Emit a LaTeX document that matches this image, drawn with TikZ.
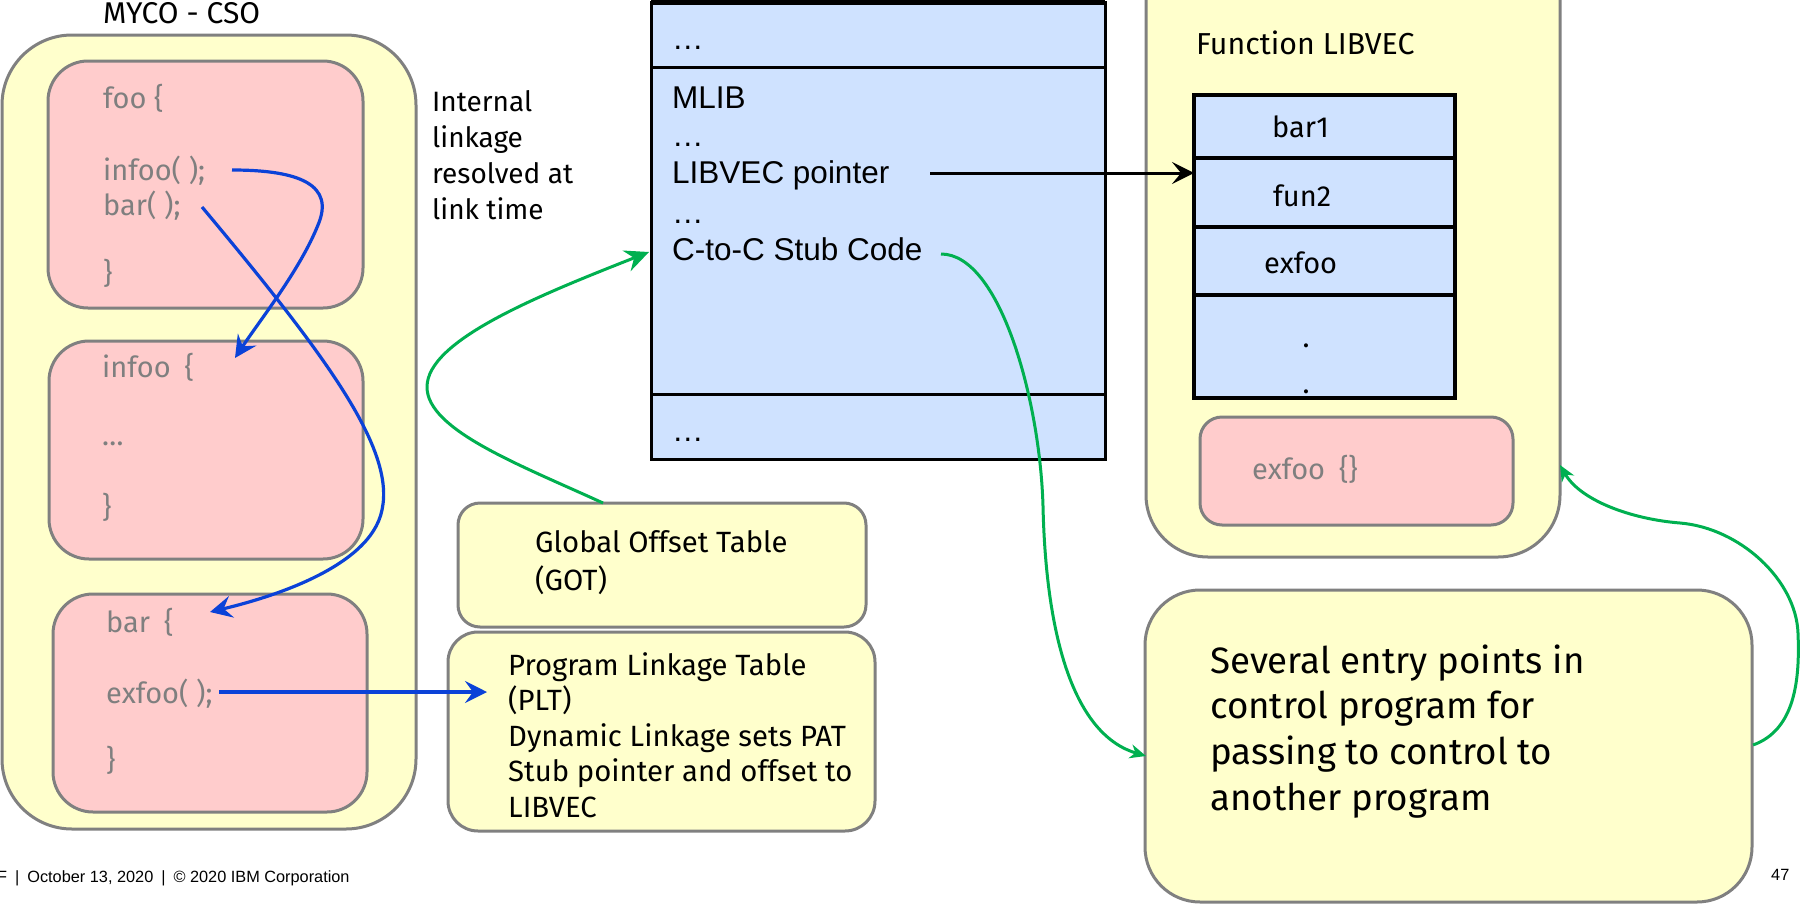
\documentclass[tikz,border=0pt]{standalone}
\usepackage{fontspec}
\setmainfont{Fira Sans}
\newfontfamily\arialfont{Liberation Sans}
\usetikzlibrary{arrows.meta}

\definecolor{paleyellow}{HTML}{FFFFCC}
\definecolor{palepink}{HTML}{FFCCCC}
\definecolor{paleblue}{HTML}{CFE2FF}
\definecolor{framegray}{HTML}{808080}
\definecolor{codegray}{HTML}{7F7F7F}
\definecolor{linkblue}{HTML}{0B42D8}
\definecolor{linkgreen}{HTML}{00B050}

\begin{document}
\begin{tikzpicture}[x=1pt,y=-1pt,
  panel/.style={draw=framegray, line width=3pt, fill=paleyellow, anchor=north west,
    inner sep=0pt, outer sep=0pt},
  codebox/.style={draw=framegray, line width=3pt, fill=palepink, anchor=north west,
    inner sep=0pt, outer sep=0pt},
  memcell/.style={draw=black, line width=3pt, fill=paleblue, anchor=north west,
    inner sep=0pt, outer sep=0pt, minimum width=454pt},
  veccell/.style={draw=black, line width=4pt, fill=paleblue, anchor=north west,
    inner sep=0pt, outer sep=0pt, minimum width=261pt},
  codetxt/.style={text=codegray, anchor=base west, inner sep=0pt,
    font=\fontsize{29}{35}\selectfont},
  plain/.style={anchor=base west, inner sep=0pt},
  memtxt/.style={anchor=base west, inner sep=0pt, font=\arialfont\fontsize{31.5}{37}\selectfont},
  foot/.style={anchor=base west, inner sep=0pt, font=\arialfont\fontsize{16.3}{20}\selectfont},
  bluelink/.style={draw=linkblue, line width=3.2pt,
    -{Stealth[length=22pt,width=22pt,inset=8pt]}},
  greenlink/.style={draw=linkgreen, line width=3pt,
    -{Stealth[length=24pt,width=22pt,inset=8pt]}},
  greenthin/.style={draw=linkgreen, line width=3pt,
    -{Stealth[length=16pt,width=14pt,inset=5pt]}},
  blacklink/.style={draw=black, line width=3pt,
    -{Stealth[length=22pt,width=22pt,inset=9pt]}}
]
\useasboundingbox (0,0) rectangle (1800,905);

% ---- module MYCO - CSO with its three functions ----
\node[plain, font=\fontsize{30}{36}\selectfont] (mycotitle) at (103,23) {MYCO - CSO};
\node[panel, rounded corners=70pt, minimum width=414pt, minimum height=794pt] (myco) at (2,35) {};

\node[codebox, rounded corners=40pt, minimum width=315pt, minimum height=247pt] (foobox) at (48,61) {};
\node[codebox, rounded corners=40pt, minimum width=314pt, minimum height=218pt] (infoobox) at (49,341) {};
\node[codebox, rounded corners=40pt, minimum width=314pt, minimum height=218pt] (barbox) at (53,594) {};

\node[codetxt] (foohead) at (103,108) {foo \{};
\node[codetxt] (infoocall) at (103,180) {infoo( );};
\node[codetxt] (barcall) at (103,215) {bar( );};
\node[codetxt] (fooend) at (103,283) {\}};

\node[codetxt] (infoohead) at (102,377) {infoo\hspace{14pt}\{};
\node[codetxt] (infoobody) at (102,445) {…};
\node[codetxt] (infooend) at (102,517) {\}};

\node[codetxt] (barhead) at (106,632) {bar\hspace{14pt}\{};
\node[codetxt] (exfoocall) at (106,703) {exfoo( );};
\node[codetxt] (barend) at (106,770) {\}};

\node[plain, font=\fontsize{28}{36}\selectfont] (internal) at (432,111)
  {\vtop{\hbox{Internal}\hbox{linkage}\hbox{resolved at}\hbox{link time}}};

% ---- linkage tables ----
\node[panel, rounded corners=22pt, minimum width=408pt, minimum height=124pt] (gotbox) at (458,503) {};
\node[panel, rounded corners=30pt, minimum width=427pt, minimum height=199pt] (pltbox) at (448,632) {};
\node[plain, font=\fontsize{29.3}{38}\selectfont] (gottxt) at (535,552)
  {\vtop{\hbox{Global Offset Table}\hbox{(GOT)}}};
\node[plain, font=\fontsize{29.3}{35.5}\selectfont] (plttxt) at (508,675)
  {\vtop{\hbox{Program Linkage Table}\hbox{(PLT)}\hbox{Dynamic Linkage sets PAT}%
   \hbox{Stub pointer and offset to}\hbox{LIBVEC}}};
\coordinate (pltentry) at ([xshift=39pt]pltbox.west);

% ---- control block in memory ----
\node[memcell, minimum height=65pt] (memtop) at (651,2) {};
\node[memcell, minimum height=327pt] (memmid) at (651,67) {};
\node[memcell, minimum height=65pt] (membot) at (651,394) {};
\draw[line width=5pt] (memtop.north west) -- (memtop.north east);

\node[memtxt] (dotsa) at (672,49) {…};
\node[memtxt] (mlib) at (672,108) {MLIB};
\node[memtxt] (dotsb) at (672,146) {…};
\node[memtxt] (ptr) at (672,183) {LIBVEC pointer};
\node[memtxt] (dotsc) at (672,223) {…};
\node[memtxt] (stub) at (672,260) {C-to-C Stub Code};
\node[memtxt] (dotsd) at (672,441) {…};

% ---- function vector LIBVEC ----
\node[panel, rounded corners=62pt, minimum width=414pt, minimum height=627pt] (libvec) at (1146,-70) {};
\node[plain, font=\fontsize{30.3}{36}\selectfont] (libvectitle) at (1196,54) {Function LIBVEC};

\node[veccell, minimum height=63pt] (bar1row) at (1194,95) {};
\node[veccell, minimum height=69pt] (fun2row) at (1194,158) {};
\node[veccell, minimum height=68pt] (exfoorow) at (1194,227) {};
\node[veccell, minimum height=103pt] (dotsrow) at (1194,295) {};
\node[plain, font=\fontsize{29}{35}\selectfont] (bar1txt) at (1272,137) {bar1};
\node[plain, font=\fontsize{29}{35}\selectfont] (fun2txt) at (1273,206) {fun2};
\node[plain, font=\fontsize{29}{35}\selectfont] (exfootxt) at (1264,273) {exfoo};
\node[anchor=base, inner sep=0pt, font=\fontsize{29}{35}\selectfont] (vdota) at (1306,347) {.};
\node[anchor=base, inner sep=0pt, font=\fontsize{29}{35}\selectfont] (vdotb) at (1306,393) {.};

\node[codebox, rounded corners=22pt, minimum width=313pt, minimum height=108pt] (exfoobox) at (1200,417) {};
\node[codetxt] (exfoodef) at (1252,479) {exfoo\hspace{14pt}\{\}};

% ---- control program entry points ----
\node[panel, rounded corners=55pt, minimum width=607pt, minimum height=312pt] (entrybox) at (1145,590) {};
\node[plain, font=\fontsize{36.7}{45.7}\selectfont] (entrytxt) at (1210,673)
  {\vtop{\hbox{Several entry points in}\hbox{control program for}%
   \hbox{passing to control to}\hbox{another program}}};

% ---- footer ----
\node[foot] (footer) at (-3,882)
  {F\hspace{8pt}|\hspace{8pt}October 13, 2020\hspace{8pt}|\hspace{8pt}© 2020 IBM Corporation};
\node[foot] (pageno) at (1771,880) {47};

% ---- calls inside MYCO ----
\draw[bluelink] ([shift={(129,-10)}]infoocall.base west)
  .. controls (300,170) and (335,185) .. (318,225)
  .. controls (300,270) and (260,320) .. ([shift={(133,-19)}]infoohead.base west);
\draw[bluelink] ([shift={(99,-8)}]barcall.base west)
  .. controls (330,360) and (395,450) .. (382,510)
  .. controls (370,570) and (260,600) .. ([shift={(104,-20)}]barhead.base west);
\draw[bluelink] ([shift={(113,-11)}]exfoocall.base west) coordinate (exfoostart)
  -- (exfoostart -| pltentry);

% ---- GOT to stub code, stub code to control program, back to LIBVEC ----
\draw[greenlink] ([xshift=-59pt]gotbox.north)
  .. controls (520,465) and (427,430) .. (427,387)
  .. controls (427,340) and (540,295) .. ([shift={(-2,21.5)}]memmid.west);
\draw[greenthin] ([shift={(269,-6)}]stub.base west)
  .. controls (1000,254) and (1040,400) .. (1043,506)
  .. controls (1046,640) and (1075,735) .. ([shift={(1,10)}]entrybox.west);
\draw[greenthin] ([shift={(1,-1)}]entrybox.east)
  .. controls (1795,730) and (1800,680) .. (1798,633)
  .. controls (1796,580) and (1740,528) .. (1680,523)
  .. controls (1630,519) and (1580,500) .. ([shift={(0,-92)}]libvec.south east);

% ---- LIBVEC pointer ----
\draw[blacklink] ([shift={(258,-10)}]ptr.base west) coordinate (ptrstart)
  -- (ptrstart -| fun2row.west);
\end{tikzpicture}
\end{document}
